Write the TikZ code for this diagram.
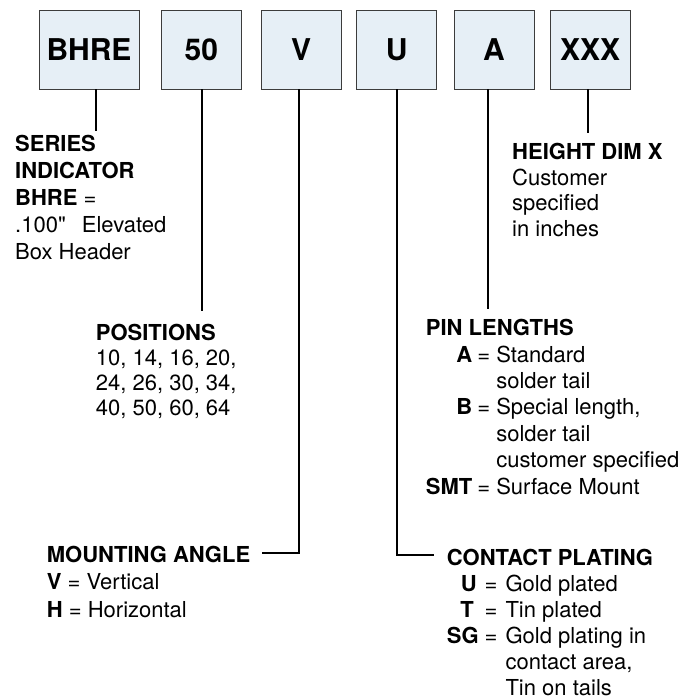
\documentclass[tikz,border=0pt]{standalone}
\usepackage{fontspec}
\setmainfont{TeX Gyre Heros}[Ligatures=TeXOff]
\usepackage{xcolor}
\definecolor{boxfill}{HTML}{E6EFF6}
\definecolor{boxline}{HTML}{3C3C3C}

\tikzset{
  code/.style={draw=boxline,fill=boxfill,line width=0.9pt,minimum width=80pt,
    minimum height=79pt,inner sep=0pt,font=\fontsize{30}{36}\selectfont\bfseries},
  lead/.style={line width=2pt},
  legend/.style={anchor=base west,inner sep=0pt,font=\fontsize{22}{26.5}\selectfont}
}

\begin{document}
\begin{tikzpicture}[x=1pt,y=-1pt]
\useasboundingbox (0,0) rectangle (694,700);

% part number boxes
\node[code,minimum width=100pt] (bhre) at (89,49.5) {BHRE};
\node[code] (pos) at (201.3,49.5) {50};
\node[code] (ang) at (301,49.5) {V};
\node[code] (plat) at (396.7,49.5) {U};
\node[code] (pin) at (494,49.5) {A};
\node[code] (hgt) at (590.2,49.5) {XXX};

% legends
\node[legend,font=\fontsize{22}{27}\selectfont] (series) at (15,152)
  {\begin{tabular}[t]{@{}l@{}}\bfseries SERIES\\ \bfseries INDICATOR\\ \textbf{BHRE} =\\
   .100"\hspace{10pt} Elevated\\ Box Header\end{tabular}};
\node[legend,font=\fontsize{22}{25.3}\selectfont] (positions) at (95.7,340)
  {\begin{tabular}[t]{@{}l@{}}\bfseries POSITIONS\\ 10, 14, 16, 20,\\ 24, 26, 30, 34,\\
   40, 50, 60, 64\end{tabular}};
\node[legend,font=\fontsize{22}{27.5}\selectfont] (mounting) at (46.7,562)
  {\begin{tabular}[t]{@{}l@{}}\bfseries MOUNTING ANGLE\\ \textbf{V} = Vertical\\
   \textbf{H} = Horizontal\end{tabular}};
\node[legend,font=\fontsize{22}{25.5}\selectfont] (height) at (512,160)
  {\begin{tabular}[t]{@{}l@{}}\bfseries HEIGHT DIM X\\ Customer\\ specified\\ in inches\end{tabular}};
\node[legend,font=\fontsize{22}{26.4}\selectfont] (pinlen) at (425.7,335.7)
  {\begin{tabular}[t]{@{}r@{\hspace{5pt}}c@{\ }l@{}}
   \multicolumn{3}{@{}l@{}}{\bfseries PIN LENGTHS}\\
   \textbf{A} & = & Standard\\
              &   & solder tail\\
   \textbf{B} & = & Special length,\\
              &   & solder tail\\
              &   & customer specified\\
   \textbf{SMT} & = & Surface Mount\end{tabular}};
\node[legend,font=\fontsize{22}{26.1}\selectfont] (plating) at (446.7,565.2)
  {\begin{tabular}[t]{@{}r@{\hspace{6pt}}c@{\hspace{8pt}}l@{}}
   \multicolumn{3}{@{}l@{}}{\bfseries CONTACT PLATING}\\
   \textbf{U}\hspace{2pt} & = & Gold plated\\
   \textbf{T}\hspace{5pt} & = & Tin plated\\
   \textbf{SG} & = & Gold plating in\\
               &   & contact area,\\
               &   & Tin on tails\end{tabular}};

% leader lines
\coordinate (seriesEnd) at (96,131);
\coordinate (posEnd) at (202,311);
\coordinate (angCorner) at (299,553);
\coordinate (angEnd) at (262,553);
\coordinate (platCorner) at (397,555);
\coordinate (platEnd) at (434,555);
\coordinate (pinEnd) at (488,309);
\coordinate (hgtEnd) at (588,133);

\draw[lead] (bhre.south -| seriesEnd) -- (seriesEnd);
\draw[lead] (pos.south -| posEnd) -- (posEnd);
\draw[lead] (ang.south -| angCorner) -- (angCorner) -- (angEnd);
\draw[lead] (plat.south -| platCorner) -- (platCorner) -- (platEnd);
\draw[lead] (pin.south -| pinEnd) -- (pinEnd);
\draw[lead] (hgt.south -| hgtEnd) -- (hgtEnd);
\end{tikzpicture}
\end{document}
